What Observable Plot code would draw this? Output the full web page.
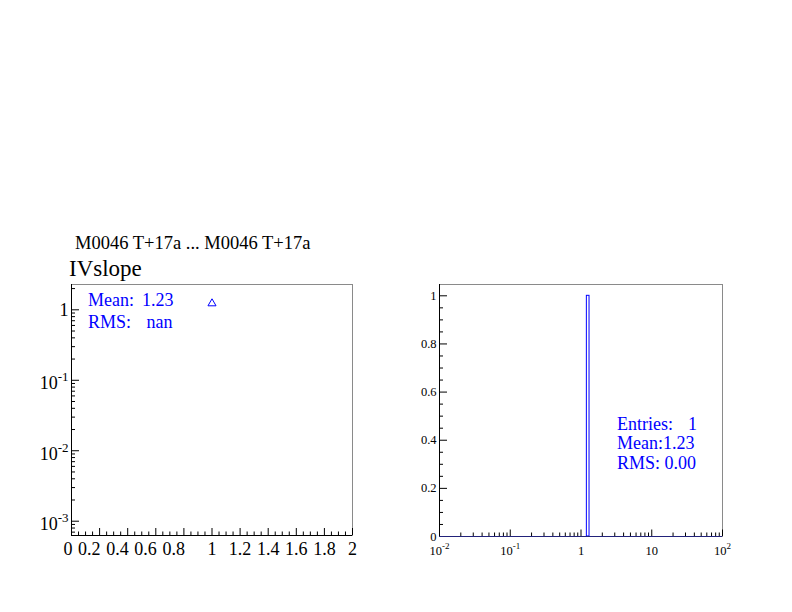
<!DOCTYPE html>
<html><head><meta charset="utf-8">
<script src="https://cdn.jsdelivr.net/npm/d3@7"></script>
<script src="https://cdn.jsdelivr.net/npm/@observablehq/plot@0.6"></script>
<style>
body{margin:0;background:#fff;}
#page{position:relative;width:792px;height:612px;overflow:hidden;background:#fff;font-family:"Liberation Serif","Times New Roman",serif;color:#000;}
.abs{position:absolute;white-space:pre;line-height:1;}
.stat{color:#0000ff;font-size:18px;}
.panel{position:absolute;}
</style></head><body>
<div id="page">
  <div class="abs" style="left:75px;top:233.5px;font-size:18.5px;">M0046 T+17a ... M0046 T+17a</div>
  <div class="abs" style="left:69px;top:256.5px;font-size:23px;">IVslope</div>
  <div id="left" class="panel" style="left:0px;top:270px;"></div>
  <div id="right" class="panel" style="left:380px;top:270px;"></div>
  <div class="abs stat" style="left:88px;top:291px;">Mean:</div>
  <div class="abs stat" style="left:142px;top:291px;">1.23</div>
  <div class="abs stat" style="left:88px;top:313px;">RMS:</div>
  <div class="abs stat" style="left:146.5px;top:313px;">nan</div>
  <div class="abs stat" style="left:617px;top:414.5px;">Entries:</div>
  <div class="abs stat" style="left:688px;top:414.5px;">1</div>
  <div class="abs stat" style="left:617px;top:434px;">Mean:1.23</div>
  <div class="abs stat" style="left:617px;top:453.5px;">RMS: 0.00</div>
</div>
<script>
// ---- data ----
const pointX = [1];
const pointY = [1.23];
const binLo = [1.21];
const binHi = [1.32];
const binCount = [1];
// ---- tick values / labels ----
const leftMajorY = [1e-3, 1e-2, 1e-1, 1];
const leftMajorX = [0, 0.2, 0.4, 0.6, 0.8, 1, 1.2, 1.4, 1.6, 1.8, 2];
const leftXLabelsLow = [0, 0.2, 0.4, 0.6, 0.8];
const leftXLabelsHigh = [1, 1.2, 1.4, 1.6, 1.8, 2];
const rightMajorY = [0, 0.2, 0.4, 0.6, 0.8, 1];
const rightMajorX = [0.01, 0.1, 1, 10, 100];

const FONT = "Liberation Serif, Times New Roman, serif";
const leftYDomain = [6.27e-4, 2.286];
const rightYDomain = [0, 1.047];
const rightXDomain = [0.01, 100];

function logMinors(eMin, eMax, lo, hi) {
  const out = [];
  for (let e = eMin; e <= eMax; e++) for (let d = 2; d <= 9; d++) {
    const v = d * Math.pow(10, e);
    if (v >= lo && v <= hi) out.push(v);
  }
  return out;
}
function linMinors(step, n, majorEvery) {
  const out = [];
  for (let k = 0; k <= n; k++) if (k % majorEvery !== 0) out.push(+(k * step).toFixed(4));
  return out;
}
const leftMinorY = logMinors(-4, 0, leftYDomain[0], leftYDomain[1]);
const leftMinorX = linMinors(0.05, 40, 4);
const rightMinorY = linMinors(0.05, 20, 4);
const rightMinorX = logMinors(-2, 1, 0.01, 100);

const powFmt = d => {
  const e = Math.round(Math.log10(d));
  if (e === 0) return "1";
  if (e === 1) return "10";
  return "10^" + e;
};

function supify(svg, supSize, raise, baseShift) {
  d3.select(svg).selectAll("text").each(function () {
    const m = /^10\^(-?\d+)$/.exec(this.textContent);
    if (!m) return;
    const sel = d3.select(this);
    sel.text(null);
    sel.append("tspan").attr("dy", baseShift).text("10");
    sel.append("tspan").attr("dy", -raise).attr("font-size", supSize).text(m[1]);
  });
}

// ---- left panel ----
const LW = 380, LH = 300, LML = 71, LMR = 28, LMT = 14, LMB = 35;
const LIW = LW - LML - LMR, LIH = LH - LMT - LMB;
const left = Plot.plot({
  width: LW, height: LH,
  marginLeft: LML, marginRight: LMR, marginTop: LMT, marginBottom: LMB,
  style: {fontFamily: FONT, background: "transparent", overflow: "visible", color: "#000"},
  x: {domain: [0, 2]},
  y: {type: "log", domain: leftYDomain},
  marks: [
    Plot.frame({stroke: "#8a8a8a"}),
    Plot.tickY(leftMinorY, {insetRight: LIW - 4, stroke: "#000"}),
    Plot.tickY(leftMajorY, {insetRight: LIW - 8, stroke: "#000"}),
    Plot.tickX(leftMinorX, {insetTop: LIH - 3.5, stroke: "#000"}),
    Plot.tickX(leftMajorX, {insetTop: LIH - 7, stroke: "#000"}),
    Plot.ruleX([0], {stroke: "#000"}),
    Plot.ruleY([leftYDomain[0]], {stroke: "#000"}),
    Plot.axisY(leftMajorY, {tickSize: 0, tickPadding: 3, fontSize: 18, label: null, tickFormat: powFmt}),
    Plot.axisX(leftXLabelsLow, {tickSize: 0, tickPadding: 7, fontSize: 18, label: null, textAnchor: "end", dx: 1, tickFormat: d => String(d)}),
    Plot.axisX(leftXLabelsHigh, {tickSize: 0, tickPadding: 7, fontSize: 18, label: null, tickFormat: d => String(d)}),
    Plot.dot(pointX, {x: d => d, y: (d, i) => pointY[i], symbol: "triangle", r: 3, stroke: "#0000ff", fill: "none", strokeWidth: 1})
  ]
});
supify(left, 13, 8, 3);
document.getElementById("left").appendChild(left);

// ---- right panel ----
const RW = 412, RH = 300, RML = 59, RMR = 70, RMT = 14, RMB = 34;
const RIW = RW - RML - RMR, RIH = RH - RMT - RMB;
const bins = binLo.map((lo, i) => ({lo, hi: binHi[i], n: binCount[i]}));
const right = Plot.plot({
  width: RW, height: RH,
  marginLeft: RML, marginRight: RMR, marginTop: RMT, marginBottom: RMB,
  style: {fontFamily: FONT, background: "transparent", overflow: "visible", color: "#000"},
  x: {type: "log", domain: rightXDomain},
  y: {domain: rightYDomain},
  marks: [
    Plot.frame({stroke: "#8a8a8a"}),
    Plot.tickY(rightMinorY, {insetRight: RIW - 4, stroke: "#000"}),
    Plot.tickY(rightMajorY, {insetRight: RIW - 8, stroke: "#000"}),
    Plot.tickX(rightMinorX, {insetTop: RIH - 3.5, stroke: "#000"}),
    Plot.tickX(rightMajorX, {insetTop: RIH - 6.5, stroke: "#000"}),
    Plot.ruleX([rightXDomain[0]], {stroke: "#000"}),
    Plot.rect(bins, {x1: "lo", x2: "hi", y1: 0, y2: "n", stroke: "#0000ff", fill: "none", strokeWidth: 1}),
    Plot.ruleY([0], {stroke: "#22227a"}),
    Plot.axisY(rightMajorY, {tickSize: 0, tickPadding: 3, fontSize: 12.5, label: null,
      tickFormat: d => d === 0 ? "0" : d === 1 ? "1" : d.toFixed(1)}),
    Plot.axisX(rightMajorX, {tickSize: 0, tickPadding: 10, fontSize: 12.5, label: null, tickFormat: powFmt})
  ]
});
supify(right, 9, 6, 0);
document.getElementById("right").appendChild(right);
</script>
</body></html>
